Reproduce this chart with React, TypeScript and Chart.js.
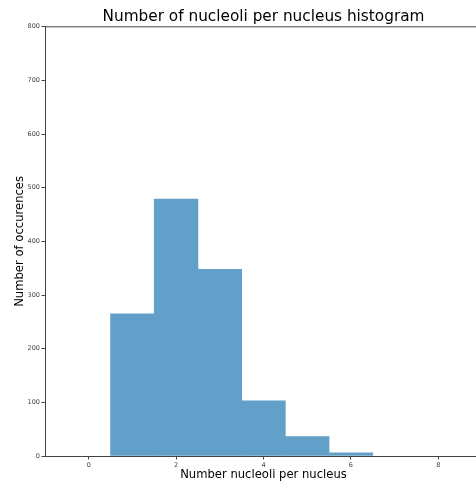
import React, { useEffect, useRef } from "react";
import { Chart, registerables } from "chart.js";

Chart.register(...registerables);

const binCenters = [1, 2, 3, 4, 5, 6];
const counts = [265, 479, 348, 103, 36, 6];
const xTickValues = [0, 2, 4, 6, 8];
const titleText = "Number of nucleoli per nucleus histogram";
const xLabel = "Number nucleoli per nucleus";
const yLabel = "Number of occurences";

const FONT = "'DejaVu Sans', sans-serif";
const SPINE = "#444444";

const topSpine = {
  id: "topSpine",
  afterDraw(chart: any) {
    const { ctx, chartArea } = chart;
    ctx.save();
    ctx.strokeStyle = SPINE;
    ctx.lineWidth = 1;
    ctx.beginPath();
    ctx.moveTo(chartArea.left, chartArea.top);
    ctx.lineTo(chartArea.right, chartArea.top);
    ctx.moveTo(chartArea.right, chartArea.top);
    ctx.lineTo(chartArea.right, chartArea.bottom);
    ctx.stroke();
    ctx.restore();
  },
};

export default function App() {
  const ref = useRef<HTMLCanvasElement>(null);
  useEffect(() => {
    if (!ref.current) return;
    const chart = new Chart(ref.current, {
      type: "bar",
      data: {
        datasets: [
          {
            data: binCenters.map((x, i) => ({ x, y: counts[i] })),
            backgroundColor: "#62a0ca",
            borderWidth: 0,
            barPercentage: 1,
            categoryPercentage: 1,
          },
        ],
      },
      options: {
        responsive: false,
        animation: false,
        layout: { padding: { right: 2, top: 0, left: 0, bottom: 0 } },
        plugins: {
          legend: { display: false },
          tooltip: { enabled: false },
          title: {
            display: true,
            text: titleText,
            fullSize: false,
            color: "#000",
            font: { family: FONT, size: 15.3, weight: "normal", lineHeight: 1 },
            padding: { top: 9.5, bottom: 2 },
          },
        },
        scales: {
          x: {
            type: "linear",
            min: -1,
            max: 9,
            offset: false,
            afterBuildTicks: (scale: any) => {
              scale.ticks = xTickValues.map((v) => ({ value: v }));
            },
            afterFit: (scale: any) => {
              scale.height = 26;
            },
            grid: {
              display: true,
              offset: false,
              drawOnChartArea: false,
              drawTicks: true,
              tickLength: 3.5,
              color: SPINE,
            },
            border: { display: true, color: SPINE },
            ticks: {
              padding: 1.5,
              color: "#444",
              font: { family: FONT, size: 6.5 },
              maxRotation: 0,
              autoSkip: false,
            },
            title: {
              display: true,
              text: xLabel,
              color: "#000",
              font: { family: FONT, size: 11.6 },
              padding: { top: 0, bottom: 0 },
            },
          },
          y: {
            min: 0,
            max: 800,
            afterFit: (scale: any) => {
              scale.width = 45;
            },
            grid: {
              display: true,
              drawOnChartArea: false,
              drawTicks: true,
              tickLength: 3.5,
              color: SPINE,
            },
            border: { display: true, color: SPINE },
            ticks: {
              stepSize: 100,
              padding: 1.5,
              color: "#444",
              font: { family: FONT, size: 6.5 },
            },
            title: {
              display: true,
              text: yLabel,
              color: "#000",
              font: { family: FONT, size: 11.6 },
              padding: { top: 13.5, bottom: 0 },
            },
          },
        },
      },
      plugins: [topSpine],
    });
    return () => chart.destroy();
  }, []);
  return (
    <div
      style={{
        position: "fixed",
        left: 0,
        top: 0,
        width: 476,
        height: 482,
        overflow: "hidden",
        background: "#fff",
      }}
    >
      <canvas ref={ref} width={484} height={482} />
    </div>
  );
}
